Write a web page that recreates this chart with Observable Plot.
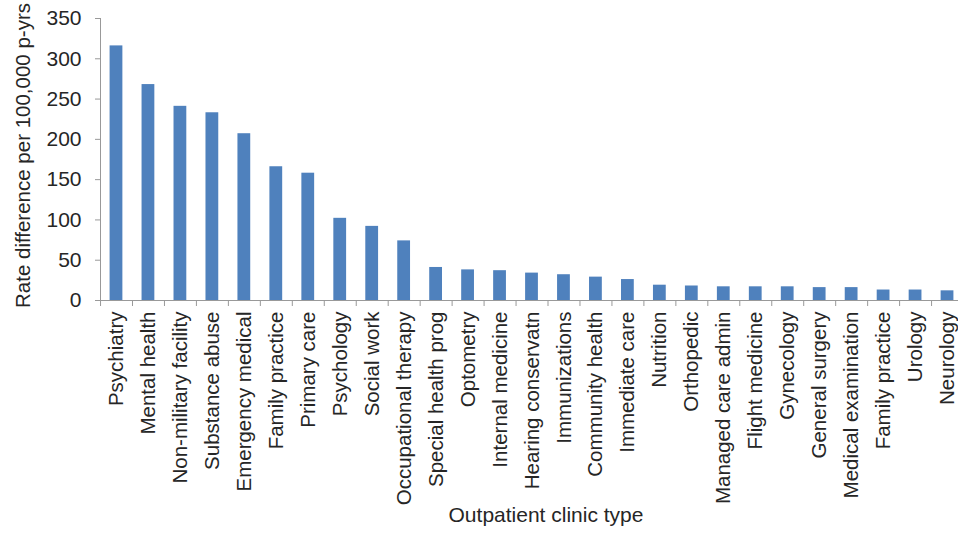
<!DOCTYPE html>
<html><head><meta charset="utf-8">
<script src="https://cdn.jsdelivr.net/npm/d3@7"></script>
<script src="https://cdn.jsdelivr.net/npm/@observablehq/plot@0.6"></script>
<style>body{margin:0;background:#fff}</style>
</head><body><div id="chart"></div>
<script>
const clinics = ["Psychiatry","Mental health","Non-military facility","Substance abuse","Emergency medical","Family practice","Primary care","Psychology","Social work","Occupational therapy","Special health prog","Optometry","Internal medicine","Hearing conservatn","Immunizations","Community health","Immediate care","Nutrition","Orthopedic","Managed care admin","Flight medicine","Gynecology","General surgery","Medical examination","Family practice ","Urology","Neurology"];
const rates = [316,268,241,233,207,166,158,102,92,74,41,38,37,34,32,29,26,19,18,17,17,17,16,16,13,13,12];
const yTicks = [0,50,100,150,200,250,300,350];
const yTitle = "Rate difference per 100,000 p-yrs";
const xTitle = "Outpatient clinic type";
const data = clinics.map((c,i)=>({clinic:c, rate:rates[i]}));
const chart = Plot.plot({
  width: 958, height: 533,
  marginLeft: 100, marginRight: -5, marginTop: 18, marginBottom: 233,
  style: {fontFamily: "'Liberation Sans', Arial, sans-serif", fontSize: "21px", color: "#262626", background:"#fff", overflow: "hidden"},
  x: {domain: clinics, paddingInner: 0.6, paddingOuter: 0.3, round: false},
  y: {domain: [0,350]},
  marks: [
    Plot.barY(data, {x:"clinic", y:"rate", fill:"#4f81bd"}),
    Plot.axisY({ticks: yTicks, tickSize: 5, tickPadding: 14, stroke: "#999", fill: "#262626", label: null, fontSize: 21}),
    Plot.axisX({tickSize: 6, tickFormat: () => "", dx: -15.95, stroke:"#999", label: null}),
    Plot.axisX({tickSize: 0, tickRotate: -90, tickPadding: 11, fill: "#262626", label: null, fontSize: 20.5, tickFormat: d => d.trim()}),
    Plot.frame({anchor:"left", stroke:"#999"}),
    Plot.frame({anchor:"bottom", stroke:"#999"}),
    Plot.text([yTitle], {text: d => d, frameAnchor: "left", textAnchor: "middle", rotate: -90, dx: -77, dy: -4, fill: "#262626", fontSize: 20.5}),
    Plot.text([xTitle], {text: d => d, frameAnchor: "bottom", dx: 14, dy: 221, fill: "#262626", fontSize: 21})
  ]
});
document.getElementById("chart").appendChild(chart);
</script>
</body></html>
